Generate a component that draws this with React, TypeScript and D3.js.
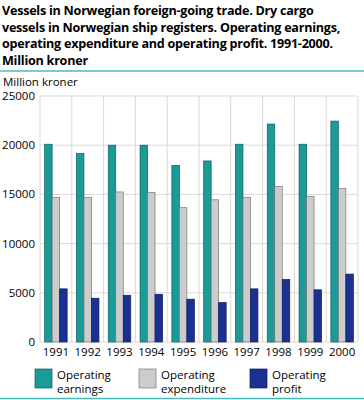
import { useEffect, useRef } from 'react';
import * as d3 from 'd3';

const years = ['1991', '1992', '1993', '1994', '1995', '1996', '1997', '1998', '1999', '2000'];
const earnings = [20100, 19150, 20000, 20000, 17950, 18400, 20100, 22150, 20100, 22450];
const expenditure = [14700, 14700, 15250, 15200, 13650, 14450, 14700, 15800, 14800, 15600];
const profit = [5400, 4450, 4750, 4850, 4350, 4000, 5400, 6350, 5300, 6900];
const seriesNames = ['Operating earnings', 'Operating expenditure', 'Operating profit'];
const yTicks = [0, 5000, 10000, 15000, 20000, 25000];

const titleLines = [
  'Vessels in Norwegian foreign-going trade. Dry cargo',
  'vessels in Norwegian ship registers. Operating earnings,',
  'operating expenditure and operating profit. 1991-2000.',
  'Million kroner',
];

const colors = ['#1a9a98', '#cccccc', '#1a3092'];
const strokes = ['#0e5e5c', '#777777', '#0c1a5a'];

export default function App() {
  const svgRef = useRef<SVGSVGElement | null>(null);

  useEffect(() => {
    const width = 364;
    const height = 400;
    const margin = { left: 40, right: 6, top: 96, bottom: 58 };
    const font = '"Open Sans", "DejaVu Sans", sans-serif';

    const svg = d3.select(svgRef.current);
    svg.selectAll('*').remove();

    svg.append('rect').attr('width', width).attr('height', height).attr('fill', 'white');

    // Title
    svg
      .append('g')
      .selectAll('text')
      .data(titleLines)
      .enter()
      .append('text')
      .attr('x', 2)
      .attr('y', (d, i) => 15 + i * 16.7)
      .style('font-family', font)
      .style('font-size', '12.6px')
      .style('letter-spacing', '-0.25px')
      .style('font-weight', 'bold')
      .style('fill', '#000')
      .text((d) => d);

    svg.append('line').attr('x1', 0).attr('x2', width).attr('y1', 71).attr('y2', 71)
      .attr('stroke', '#4fb8bb').attr('stroke-width', 1.5);
    svg.append('line').attr('x1', 0).attr('x2', width).attr('y1', 398.5).attr('y2', 398.5)
      .attr('stroke', '#4fb8bb').attr('stroke-width', 1.5);

    svg.append('text')
      .attr('x', 3)
      .attr('y', 86)
      .style('font-family', font)
      .style('font-size', '11.5px')
      .text('Million kroner');

    const x = d3.scaleBand().domain(years).range([margin.left, width - margin.right]);
    const y = d3.scaleLinear().domain([0, 25000]).range([height - margin.bottom, margin.top]);
    const inner = d3.scaleBand().domain(['0', '1', '2']).range([0, x.bandwidth()]).paddingOuter(0.62).paddingInner(0);

    const grid = svg.append('g');
    grid.selectAll('line.h')
      .data(yTicks)
      .enter()
      .append('line')
      .attr('x1', margin.left)
      .attr('x2', width - margin.right)
      .attr('y1', (d) => y(d))
      .attr('y2', (d) => y(d))
      .attr('stroke', '#d9d9d9')
      .attr('stroke-width', 1);
    grid.selectAll('line.v')
      .data(d3.range(years.length + 1))
      .enter()
      .append('line')
      .attr('x1', (i) => margin.left + i * x.step())
      .attr('x2', (i) => margin.left + i * x.step())
      .attr('y1', y(25000))
      .attr('y2', y(0))
      .attr('stroke', '#d9d9d9')
      .attr('stroke-width', 1);

    svg.append('g')
      .selectAll('text')
      .data(yTicks)
      .enter()
      .append('text')
      .attr('x', 35)
      .attr('y', (d) => y(d) + 4)
      .attr('text-anchor', 'end')
      .style('font-family', font)
      .style('font-size', '11.5px')
      .text((d) => d);

    svg.append('g')
      .selectAll('text')
      .data(years)
      .enter()
      .append('text')
      .attr('x', (d) => (x(d) as number) + x.bandwidth() / 2)
      .attr('y', 356)
      .attr('text-anchor', 'middle')
      .style('font-family', font)
      .style('font-size', '11.5px')
      .text((d) => d);

    const series = [earnings, expenditure, profit];
    series.forEach((vals, s) => {
      svg.append('g')
        .selectAll('rect')
        .data(vals)
        .enter()
        .append('rect')
        .attr('x', (d, i) => (x(years[i]) as number) + (inner(String(s)) as number))
        .attr('y', (d) => y(d))
        .attr('width', inner.bandwidth())
        .attr('height', (d) => y(0) - y(d))
        .attr('fill', colors[s])
        .attr('stroke', strokes[s])
        .attr('stroke-width', 0.7);
    });

    // Legend
    const legendX = [35, 139, 250];
    const legend = svg.append('g')
      .selectAll('g')
      .data(seriesNames)
      .enter()
      .append('g')
      .attr('transform', (d, i) => `translate(${legendX[i]},369)`);
    legend.append('rect')
      .attr('width', 17)
      .attr('height', 19)
      .attr('fill', (d, i) => colors[i])
      .attr('stroke', (d, i) => strokes[i])
      .attr('stroke-width', 0.7);
    legend.each(function (d) {
      const words = d.split(' ');
      const t = d3.select(this).append('text')
        .style('font-family', font)
        .style('font-size', '11.5px');
      t.append('tspan').attr('x', 22).attr('y', 10).text(words[0]);
      t.append('tspan').attr('x', 22).attr('y', 24).text(words[1]);
    });
  }, []);

  return <svg ref={svgRef} width={364} height={400} style={{ position: 'absolute', left: 0, top: 0 }} />;
}
